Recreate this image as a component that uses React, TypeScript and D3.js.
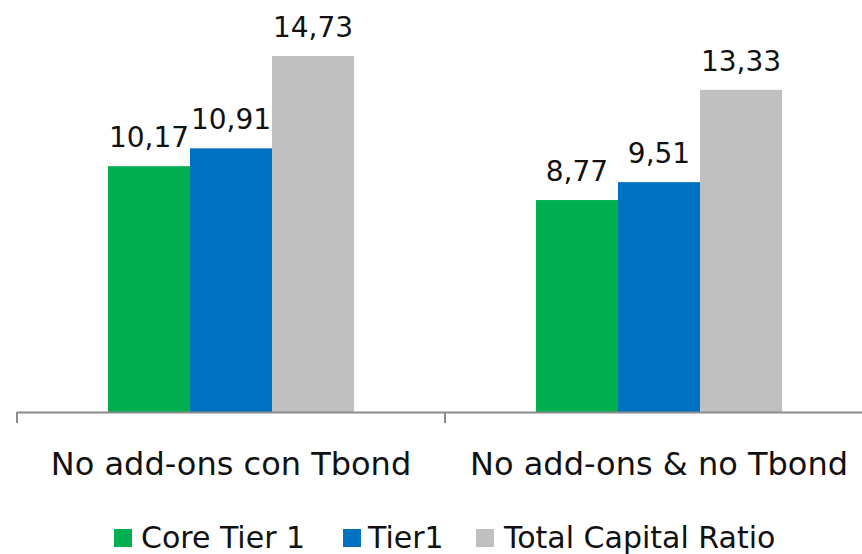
import React from "react";
import * as d3 from "d3";

const categories = ["No add-ons con Tbond", "No add-ons & no Tbond"];
const seriesNames = ["Core Tier 1", "Tier1", "Total Capital Ratio"];
const coreTier1 = [10.17, 8.77];
const tier1 = [10.91, 9.51];
const totalCapital = [14.73, 13.33];
const seriesColors = ["#00B050", "#0070C0", "#C0C0C0"];

const W = 862;
const H = 554;
const FONT = "'DejaVu Sans', sans-serif";

export default function App() {
  const values = [coreTier1, tier1, totalCapital];
  const x = d3.scaleBand<string>().domain(categories).range([17, 873]).paddingInner(0).paddingOuter(0);
  const groupW = x.bandwidth() * 0.575;
  const xs = d3.scaleBand<string>().domain(seriesNames).range([0, groupW]);
  const y = d3.scaleLinear().domain([0, 16]).range([412, 25.3]);
  const fmt = (v: number) => v.toFixed(2).replace(".", ",");
  const ticks = categories.map((c) => x(c)!).concat([x(categories[categories.length - 1])! + x.bandwidth()]);

  const legendX = [114, 343, 476];
  const legendTextX = [141, 368, 504];

  return (
    <div style={{ position: "absolute", left: 0, top: 0 }}>
      <svg width={W} height={H} style={{ display: "block" }}>
        <rect x={0} y={0} width={W} height={H} fill="#fff" />
        {categories.map((c, ci) => {
          const gx = x(c)! + (x.bandwidth() - groupW) / 2;
          return (
            <g key={c}>
              {seriesNames.map((s, si) => {
                const v = values[si][ci];
                const bx = gx + xs(s)!;
                return (
                  <g key={s}>
                    <rect x={bx} y={y(v)} width={xs.bandwidth()} height={y(0) - y(v)} fill={seriesColors[si]} />
                    <text x={bx + xs.bandwidth() / 2} y={y(v) - 19} textAnchor="middle" fontFamily={FONT} fontSize={28} fill="#111">
                      {fmt(v)}
                    </text>
                  </g>
                );
              })}
              <text x={x(c)! + x.bandwidth() / 2} y={475} textAnchor="middle" fontFamily={FONT} fontSize={32} fill="#111">
                {c}
              </text>
            </g>
          );
        })}
        <line x1={17} x2={W} y1={412.5} y2={412.5} stroke="#8c8c8c" strokeWidth={2} />
        {ticks.map((t, i) => (
          <line key={i} x1={t} x2={t} y1={412} y2={423} stroke="#8c8c8c" strokeWidth={2} />
        ))}
        {seriesNames.map((s, si) => (
          <g key={s}>
            <rect x={legendX[si]} y={529} width={18} height={18} fill={seriesColors[si]} />
            <text x={legendTextX[si]} y={548} fontFamily={FONT} fontSize={30} fill="#111">
              {s}
            </text>
          </g>
        ))}
      </svg>
    </div>
  );
}
